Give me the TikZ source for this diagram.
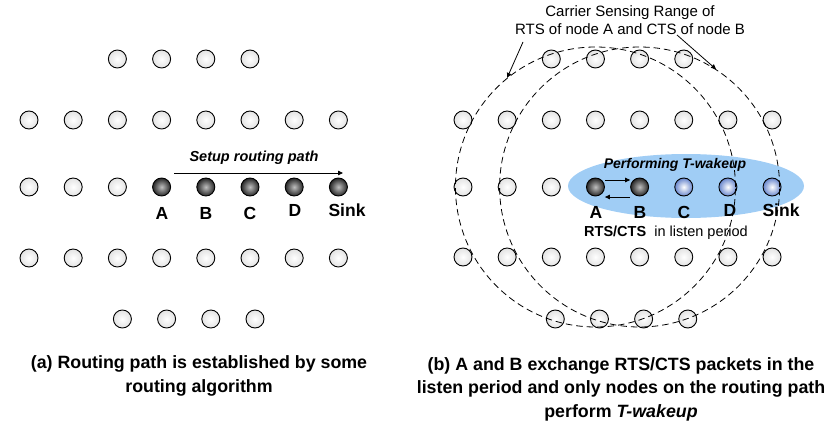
\documentclass[tikz,border=0pt]{standalone}
\usepackage{fontspec}
\setmainfont{Liberation Sans}
\usetikzlibrary{arrows.meta}
\definecolor{zone}{RGB}{160,205,245}
\definecolor{nodeblue}{RGB}{105,135,205}
\tikzset{
  idle/.style={circle,draw=black,line width=0.9pt,inner sep=0pt,minimum size=18pt,inner color=white,outer color=gray!22},
  relay/.style={idle,inner color=gray!50,outer color=black!85},
  awake/.style={idle,inner color=white,outer color=nodeblue},
  lbl/.style={font=\bfseries\fontsize{17.5}{17.5}\selectfont},
  capt/.style={font=\bfseries\fontsize{17.8}{23.5}\selectfont,align=center},
  senserange/.style={circle,draw,dash pattern=on 6.5pt off 4pt,line width=0.8pt,inner sep=0pt,minimum size=280pt},
  tip/.style={-{Triangle[length=5pt,width=4.5pt]},line width=0.8pt}
}
\begin{document}
\begin{tikzpicture}[x=1pt,y=-1pt]
\useasboundingbox (0,0) rectangle (840,428);
%(a) left field
\foreach \k in {2,...,5} \node[idle] (la1\k) at ({29+44.2*\k},59) {};
\foreach \k in {0,...,7} \node[idle] (la2\k) at ({29+44.2*\k},120) {};
\foreach \k in {0,...,2} \node[idle] (la3\k) at ({29+44.2*\k},187) {};
\foreach \k in {3,...,7} \node[relay] (la3\k) at ({29+44.2*\k},187) {};
\foreach \k in {0,...,7} \node[idle] (la4\k) at ({29+44.2*\k},258) {};
\foreach \k in {2,...,5} \node[idle] (la5\k) at ({34+44.2*\k},319) {};
%routing path
\coordinate (setupA) at (174,173);
\coordinate (setupB) at (343,173);
\draw[tip] (setupA) -- (setupB);
\node[font=\bfseries\itshape\fontsize{14.5}{14.5}\selectfont] (setup) at (254,158) {Setup routing path};
\node[lbl] (lA) at (162,213) {A};
\node[lbl] (lB) at (206,213) {B};
\node[lbl] (lC) at (250,213) {C};
\node[lbl] (lD) at (295,210) {D};
\node[lbl] (lS) at (347,210) {Sink};
%(b) right field
\fill[zone] (686,186) ellipse [x radius=118pt,y radius=32pt];
\foreach \k in {2,...,5} \node[idle] (rb1\k) at ({463+44.15*\k},59) {};
\foreach \k in {0,...,7} \node[idle] (rb2\k) at ({463+44.15*\k},120) {};
\foreach \k in {0,...,2} \node[idle] (rb3\k) at ({463+44.15*\k},187) {};
\foreach \k in {3,4} \node[relay] (rb3\k) at ({463+44.15*\k},187) {};
\foreach \k in {5,...,7} \node[awake] (rb3\k) at ({463+44.15*\k},187) {};
\foreach \k in {0,...,7} \node[idle] (rb4\k) at ({463+44.15*\k},257) {};
\foreach \k in {2,...,5} \node[idle] (rb5\k) at ({467+44.15*\k},319) {};
%carrier sensing ranges
\node[senserange] (rangeA) at (rb33) {};
\node[senserange] (rangeB) at (rb34) {};
\node[align=center,font=\fontsize{15}{18}\selectfont] (csr) at (630,20) {Carrier Sensing Range of\\RTS of node A and CTS of node B};
\coordinate (csrL) at (523,42);
\coordinate (csrR) at (677,35);
\draw[tip] (csrL) -- (rangeA.129);
\draw[tip] (csrR) -- (rangeB.57);
%RTS/CTS exchange
\draw[tip] ([yshift=7pt]rb33.east) -- ([yshift=7pt]rb34.west);
\draw[tip] ([yshift=-10pt]rb34.west) -- ([yshift=-10pt]rb33.east);
\node[font=\bfseries\itshape\fontsize{14}{14}\selectfont] (twake) at (675,165) {Performing T-wakeup};
\node[lbl] (rA) at (596,212) {A};
\node[lbl] (rB) at (640,212) {B};
\node[lbl] (rC) at (684,212) {C};
\node[lbl] (rD) at (730,210) {D};
\node[lbl] (rS) at (781,210) {Sink};
\node[font=\fontsize{14.5}{14.5}\selectfont] (listen) at (666,233) {\textbf{RTS/CTS}\ \ in listen period};
%captions
\node[capt] (captA) at (199,376) {(a) Routing path is established by some\\routing algorithm};
\node[capt] (captB) at (621,389) {(b) A and B exchange RTS/CTS packets in the\\listen period and only nodes on the routing path\\perform \textit{T-wakeup}};
\end{tikzpicture}
\end{document}
